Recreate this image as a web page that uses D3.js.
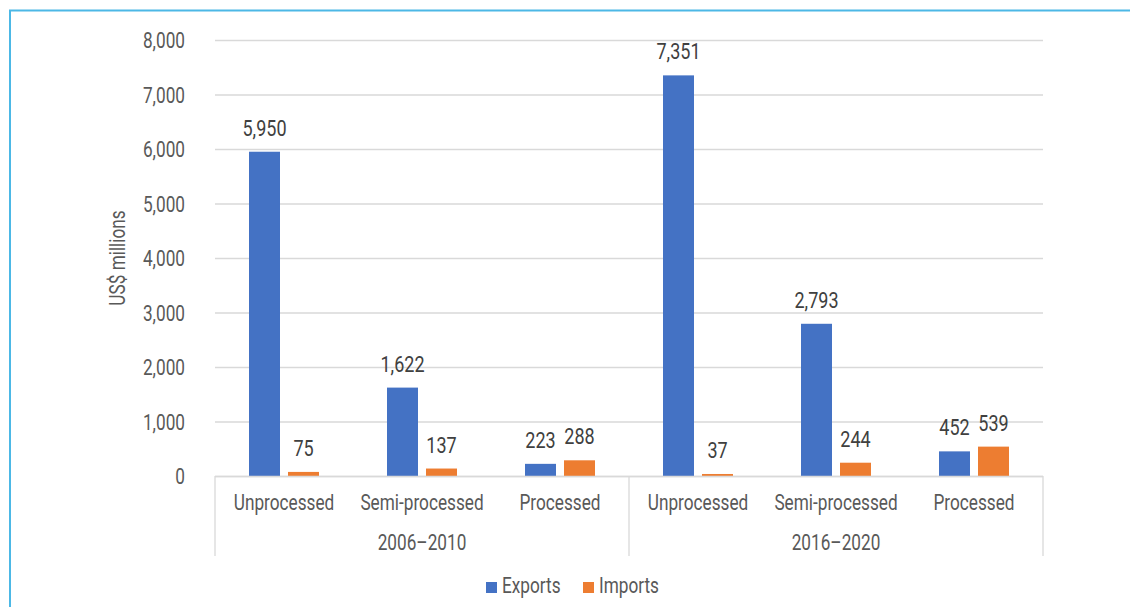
<!DOCTYPE html>
<html>
<head>
<meta charset="utf-8">
<script src="https://cdn.jsdelivr.net/npm/d3@7"></script>
<style>
  html, body { margin: 0; padding: 0; background: #fff; }
  svg text { font-family: "Roboto", "Liberation Sans", sans-serif; fill: #595959; }
</style>
</head>
<body>
<svg id="chart" width="1130" height="607"></svg>
<script>
// Trade values by processing stage, US$ millions
const periods = ["2006–2010", "2016–2020"];
const stages = ["Unprocessed", "Semi-processed", "Processed"];
const exportsValues = [5950, 1622, 223, 7351, 2793, 452];
const importsValues = [75, 137, 288, 37, 244, 539];
const seriesNames = ["Exports", "Imports"];
const seriesColors = ["#4472c4", "#ed7d31"];
const yTicks = [0, 1000, 2000, 3000, 4000, 5000, 6000, 7000, 8000];

const svg = d3.select("#chart");
const W = 1130, H = 607;
const plot = { left: 215, right: 1043, top: 40, bottom: 476 };
const fontSize = 21.5;
const valueFontSize = 22.5;
const narrow = 0.8; // horizontal squeeze for a condensed look

// Frame lines along the top and left edges
svg.append("line").attr("x1", 9).attr("x2", W).attr("y1", 10.5).attr("y2", 10.5)
  .attr("stroke", "#4cb8e6").attr("stroke-width", 2);
svg.append("line").attr("x1", 10).attr("x2", 10).attr("y1", 10).attr("y2", H)
  .attr("stroke", "#4cb8e6").attr("stroke-width", 2);

// One band per (period, stage) pair
const rows = [];
periods.forEach((p, pi) => stages.forEach((s, si) => {
  const i = pi * stages.length + si;
  rows.push({ key: p + "|" + s, period: p, stage: s, values: [exportsValues[i], importsValues[i]] });
}));

const x = d3.scaleBand().domain(rows.map(r => r.key)).range([plot.left, plot.right]);
const y = d3.scaleLinear().domain([0, 8000]).range([plot.bottom, plot.top]);

// Horizontal gridlines and y tick labels
const yAxis = d3.axisLeft(y).tickValues(yTicks).tickFormat(d3.format(","))
  .tickSize(-(plot.right - plot.left)).tickPadding(30);
const gy = svg.append("g").attr("transform", `translate(${plot.left},0)`).call(yAxis);
gy.select(".domain").remove();
gy.selectAll(".tick line").attr("stroke", "#d9d9d9").attr("stroke-width", 1.3);
gy.selectAll(".tick text").attr("font-size", fontSize).attr("fill", "#595959").attr("dy", "0.36em")
  .attr("font-family", "Roboto");

// Bars: two series side by side inside each band
const barW = 31, gap = 8;
const offset = k => k === 0 ? -(barW + gap / 2) : gap / 2;
const groups = svg.append("g").selectAll("g").data(rows).join("g")
  .attr("transform", r => `translate(${x(r.key) + x.bandwidth() / 2},0)`);

groups.selectAll("rect").data(r => r.values.map((v, k) => ({ v, k }))).join("rect")
  .attr("x", d => offset(d.k))
  .attr("width", barW)
  .attr("y", d => y(d.v))
  .attr("height", d => y(0) - y(d.v))
  .attr("fill", d => seriesColors[d.k]);

// Value labels above each bar
groups.selectAll("text.val").data(r => r.values.map((v, k) => ({ v, k }))).join("text")
  .attr("class", "val")
  .attr("x", d => offset(d.k) + barW / 2)
  .attr("y", d => y(d.v) - 16)
  .attr("text-anchor", "middle")
  .attr("font-size", valueFontSize)
  .style("fill", "#404040")
  .text(d => d3.format(",")(d.v));

// Category axis: baseline, stage labels, period labels and separators
const gx = svg.append("g");
gx.append("line").attr("x1", plot.left).attr("x2", plot.right)
  .attr("y1", plot.bottom + 0.5).attr("y2", plot.bottom + 0.5)
  .attr("stroke", "#d9d9d9").attr("stroke-width", 1.3);
const sepX = [plot.left, x(rows[3].key), plot.right];
gx.selectAll("line.sep").data(sepX).join("line").attr("class", "sep")
  .attr("x1", d => d).attr("x2", d => d).attr("y1", plot.bottom).attr("y2", 556)
  .attr("stroke", "#d9d9d9").attr("stroke-width", 1.3);
gx.selectAll("text.stage").data(rows).join("text").attr("class", "stage")
  .attr("x", r => x(r.key) + x.bandwidth() / 2).attr("y", 510)
  .attr("text-anchor", "middle").attr("font-size", fontSize)
  .text(r => r.stage);
gx.selectAll("text.period").data(periods).join("text").attr("class", "period")
  .attr("x", (p, i) => (sepX[i] + sepX[i + 1]) / 2).attr("y", 550)
  .attr("text-anchor", "middle").attr("font-size", fontSize)
  .text(p => p);

// Y axis title
svg.append("text").attr("transform", "translate(125,258) rotate(-90)")
  .attr("text-anchor", "middle").attr("font-size", fontSize).text("US$ millions");

// Legend
const legend = svg.append("g");
const legX = [486, 583];
seriesNames.forEach((name, k) => {
  legend.append("rect").attr("x", legX[k]).attr("y", 582).attr("width", 11).attr("height", 11)
    .attr("fill", seriesColors[k]);
  legend.append("text").attr("x", legX[k] + 16).attr("y", 593).attr("font-size", fontSize).text(name);
});

// Squeeze every label horizontally to get condensed glyphs
svg.selectAll("text").each(function () {
  const len = this.getComputedTextLength();
  d3.select(this).attr("textLength", len * narrow).attr("lengthAdjust", "spacingAndGlyphs");
});
</script>
</body>
</html>
